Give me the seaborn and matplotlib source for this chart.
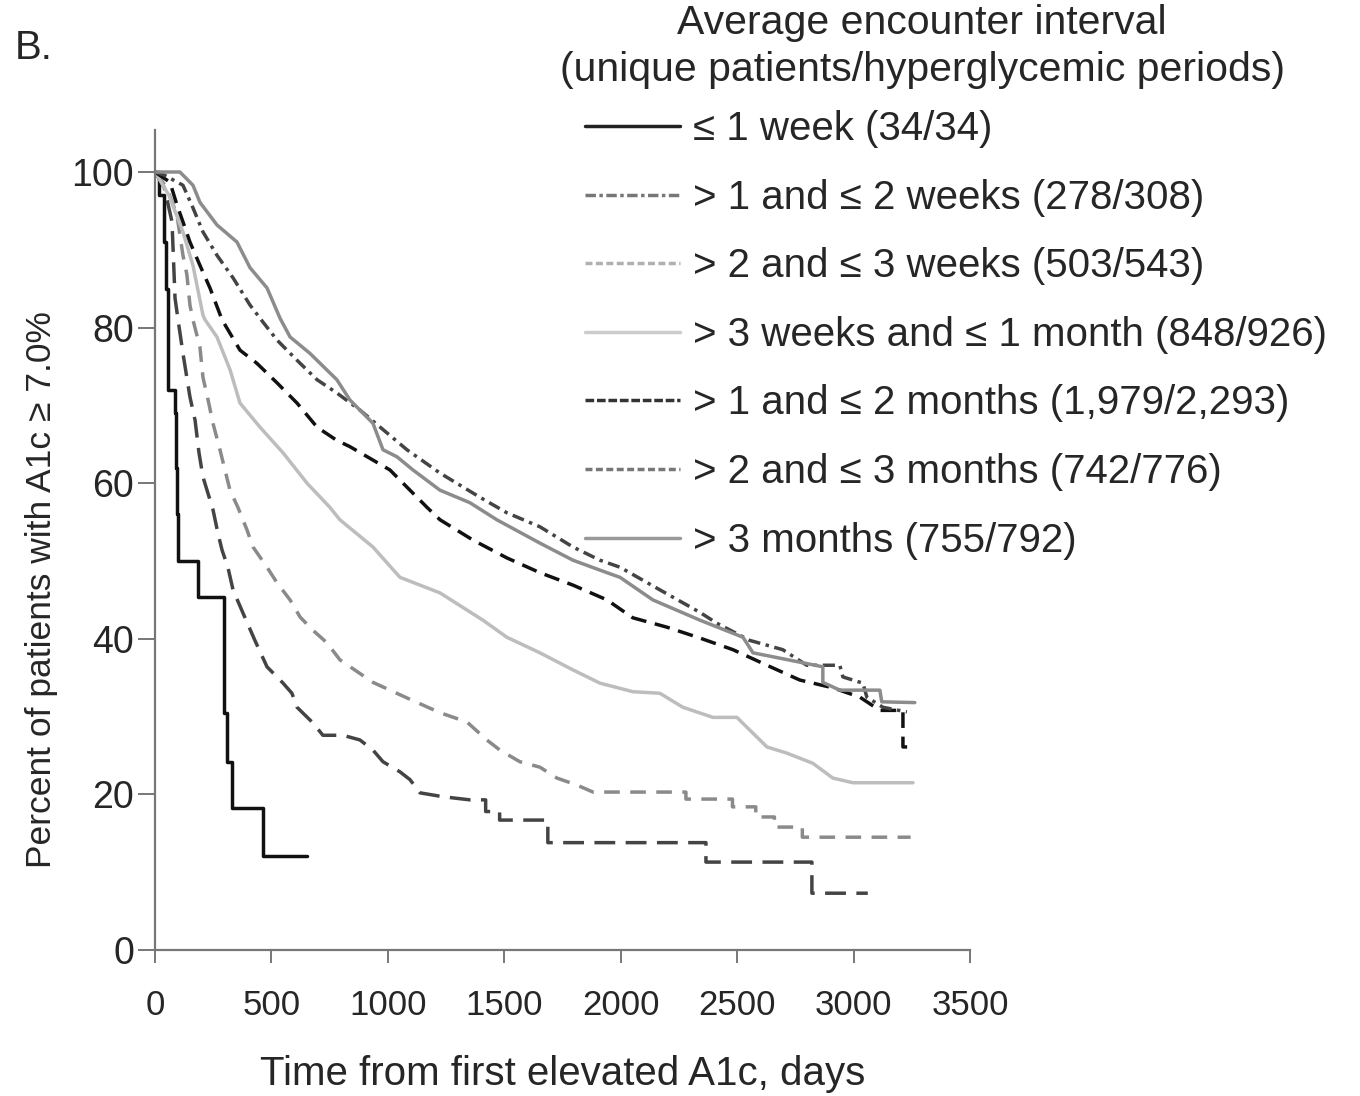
import numpy as np
import pandas as pd
import matplotlib
matplotlib.use("Agg")
import matplotlib.pyplot as plt
from matplotlib.lines import Line2D
import seaborn as sns

# --- Kaplan-Meier curves (days, percent still >= 7.0%) ---
wk1_days = [0, 18, 40, 48, 56, 86, 90, 95, 99, 185, 296, 309, 330, 464, 653]
wk1_pct = [100, 97, 91, 85, 72, 69, 62, 56, 50, 45.4, 30.5, 24.2, 18.3, 12.1, 12.1]

wk2_days = [0, 40, 73, 86, 99, 120, 150, 172, 189, 206, 249, 270, 288, 313, 335,
            378, 429, 481, 550, 588, 610, 678, 721, 807, 880, 936, 979, 1052, 1095,
            1138, 1237, 1352, 1420, 1420, 1480, 1480, 1687, 1687, 2366, 2366, 2821,
            2821, 3061]
wk2_pct = [100, 98, 93.6, 83.8, 81, 76.7, 71.1, 68.1, 63.9, 60.8, 56.6, 53.6, 51.4,
           49.2, 46.3, 43.3, 39.8, 36.4, 34.3, 33, 31.2, 29.2, 27.6, 27.6, 27, 25.7,
           24.2, 22.9, 21.9, 20.2, 19.7, 19.3, 19.3, 17.8, 17.8, 16.7, 16.7, 13.8,
           13.8, 11.3, 11.3, 7.3, 7.3]

wk3_days = [0, 50, 94, 120, 137, 150, 163, 193, 206, 228, 249, 279, 322, 356, 395,
            421, 481, 524, 580, 623, 678, 738, 794, 936, 1082, 1224, 1340, 1425, 1481,
            1567, 1653, 1726, 1812, 1881, 2280, 2280, 2480, 2480, 2580, 2580, 2660,
            2660, 2780, 2780, 3245]
wk3_pct = [100, 98, 94.5, 89.3, 86.8, 82.9, 81, 77.5, 73.6, 70.7, 67.7, 64.3, 59.1,
           56.9, 54, 51.8, 49.2, 47.2, 45, 42.8, 41.1, 39.5, 37.3, 34.4, 32.4, 30.5,
           29.3, 27, 25.7, 24.2, 23.5, 22.1, 21.2, 20.3, 20.3, 19.4, 19.4, 18.4, 18.4,
           17.1, 17.1, 15.8, 15.8, 14.5, 14.5]

mo1_days = [0, 60, 120, 163, 206, 215, 266, 322, 365, 451, 550, 653, 751, 794, 936,
            1052, 1224, 1408, 1511, 1653, 1795, 1911, 2052, 2168, 2267, 2396, 2499,
            2628, 2714, 2825, 2911, 2997, 3255]
mo1_pct = [100, 97, 92.3, 88, 81.6, 81, 78.8, 74.6, 70.3, 67.2, 63.9, 60, 56.9, 55.3,
           51.8, 47.9, 45.9, 42.4, 40.2, 38.2, 36, 34.3, 33.2, 33, 31.2, 29.9, 29.9,
           26.1, 25.3, 24, 22.1, 21.5, 21.5]

mo2_days = [0, 64, 94, 120, 150, 193, 236, 288, 365, 438, 524, 610, 696, 781, 837,
            1009, 1168, 1224, 1365, 1511, 1653, 1795, 1941, 2052, 2198, 2340, 2482,
            2628, 2769, 2911, 3027, 3113, 3212, 3212, 3230]
mo2_pct = [100, 98.7, 95.8, 93.6, 91, 88, 85.1, 81, 77.1, 75.4, 72.9, 70.3, 67.2,
           65.5, 64.7, 61.7, 56.9, 55.3, 52.7, 50.4, 48.5, 46.9, 45, 42.7, 41.5, 40.1,
           38.6, 36.6, 34.7, 33.7, 32.5, 30.8, 30.8, 26.1, 26.1]

mo3_days = [0, 40, 120, 163, 206, 266, 335, 408, 464, 524, 610, 696, 781, 880, 1082,
            1224, 1395, 1511, 1653, 1795, 1911, 1997, 2150, 2340, 2413, 2554, 2696,
            2799, 2941, 2954, 3040, 3057, 3126, 3229]
mo3_pct = [100, 99.6, 98.3, 95.4, 92.3, 89.3, 86.4, 82.9, 80.7, 78.4, 75.8, 73.3,
           71.6, 69.4, 64.3, 61.3, 58.2, 56.2, 54.4, 51.8, 50.1, 49.2, 46.6, 43.4, 42.0,
           39.8, 38.6, 36.6, 36.6, 35.1, 34.3, 32.5, 31.2, 30.6]

mo4_days = [0, 107, 163, 193, 266, 352, 408, 481, 537, 580, 665, 781, 837, 936, 979,
            1039, 1108, 1224, 1352, 1468, 1653, 1795, 1941, 1997, 2138, 2340, 2525,
            2568, 2769, 2868, 2868, 2941, 3113, 3121, 3263]
mo4_pct = [100, 100, 98.3, 96.1, 93.2, 91, 87.7, 85.1, 81.2, 78.8, 76.7, 73.3, 70.7,
           67.7, 64.3, 63.4, 61.7, 59.1, 57.5, 55.3, 52.3, 50.1, 48.5, 47.9, 45, 42.4,
           40.2, 38.2, 37, 36.4, 34.4, 33.4, 33.4, 31.9, 31.8]

labels = [
    "\u2264 1 week (34/34)",
    "> 1 and \u2264 2 weeks (278/308)",
    "> 2 and \u2264 3 weeks (503/543)",
    "> 3 weeks and \u2264 1 month (848/926)",
    "> 1 and \u2264 2 months (1,979/2,293)",
    "> 2 and \u2264 3 months (742/776)",
    "> 3 months (755/792)",
]

curves = [(wk1_days, wk1_pct), (wk2_days, wk2_pct), (wk3_days, wk3_pct),
          (mo1_days, mo1_pct), (mo2_days, mo2_pct), (mo3_days, mo3_pct),
          (mo4_days, mo4_pct)]

frames = []
for lab, (d, p) in zip(labels, curves):
    frames.append(pd.DataFrame({"days": d, "pct": p, "group": lab}))
df = pd.concat(frames, ignore_index=True)

# how each curve looks inside the plot
plot_styles = {
    labels[0]: dict(color="#111111", linestyle="-", drawstyle="steps-post"),
    labels[1]: dict(color="#444444", linestyle=(0, (6, 3))),
    labels[2]: dict(color="#8a8a8a", linestyle=(0, (4.5, 3))),
    labels[3]: dict(color="#bdbdbd", linestyle="-"),
    labels[4]: dict(color="#111111", linestyle=(0, (4.5, 2.5))),
    labels[5]: dict(color="#444444", linestyle=(0, (3.5, 1.6, 1, 1.6))),
    labels[6]: dict(color="#8c8c8c", linestyle="-"),
}
# how the legend keys are drawn in the original figure
legend_styles = [
    dict(color="#222222", linestyle="-"),
    dict(color="#777777", linestyle=(0, (3, 1, 1, 1))),
    dict(color="#b0b0b0", linestyle=(0, (2, 1))),
    dict(color="#cccccc", linestyle="-"),
    dict(color="#333333", linestyle=(0, (2.5, 0.8))),
    dict(color="#777777", linestyle=(0, (2, 1))),
    dict(color="#999999", linestyle="-"),
]

sns.set_style("white")
plt.rcParams["font.family"] = ["Liberation Sans", "DejaVu Sans"]

fig = plt.figure(figsize=(13.6, 10.96), dpi=100)
ax = fig.add_axes([155 / 1360, 1 - 950 / 1096, 815 / 1360, 820 / 1096])

for lab in labels:
    sub = df[df["group"] == lab]
    sns.lineplot(data=sub, x="days", y="pct", ax=ax, estimator=None, sort=False,
                 legend=False, lw=2.5, **plot_styles[lab])

ax.set_xlim(0, 3500)
ax.set_ylim(0, 105.4)
ax.set_xticks(np.arange(0, 3501, 500))
ax.set_yticks(np.arange(0, 101, 20))
ax.tick_params(axis="x", direction="out", length=9, width=1.4, color="#777777",
               labelsize=25, pad=19, bottom=True)
ax.tick_params(axis="y", direction="out", length=12, width=1.4, color="#777777",
               labelsize=27, pad=3, left=True)
for side in ["top", "right"]:
    ax.spines[side].set_visible(False)
for side in ["left", "bottom"]:
    ax.spines[side].set_color("#777777")
    ax.spines[side].set_linewidth(1.6)

ax.set_xlabel("Time from first elevated A1c, days", fontsize=29, labelpad=24)
ax.set_ylabel("Percent of patients with A1c \u2265 7.0%", fontsize=25.5)
ax.yaxis.set_label_coords(-0.119, 0.44)

handles = [Line2D([], [], lw=2.5, **st) for st in legend_styles]
fig.legend(handles, labels, loc="upper left", bbox_to_anchor=(585 / 1360, 1 - 110 / 1096),
           frameon=False, fontsize=29, handlelength=2.36, handletextpad=0.32,
           labelspacing=0.76, borderpad=0, borderaxespad=0)

fig.text(922 / 1360, 1 - 23 / 1096, "Average encounter interval", ha="center",
         va="center", fontsize=29.5)
fig.text(922 / 1360, 1 - 70 / 1096, "(unique patients/hyperglycemic periods)",
         ha="center", va="center", fontsize=29.5)
fig.text(15 / 1360, 1 - 48 / 1096, "B.", ha="left", va="center", fontsize=29)

fig.savefig("out.png", dpi=100)
